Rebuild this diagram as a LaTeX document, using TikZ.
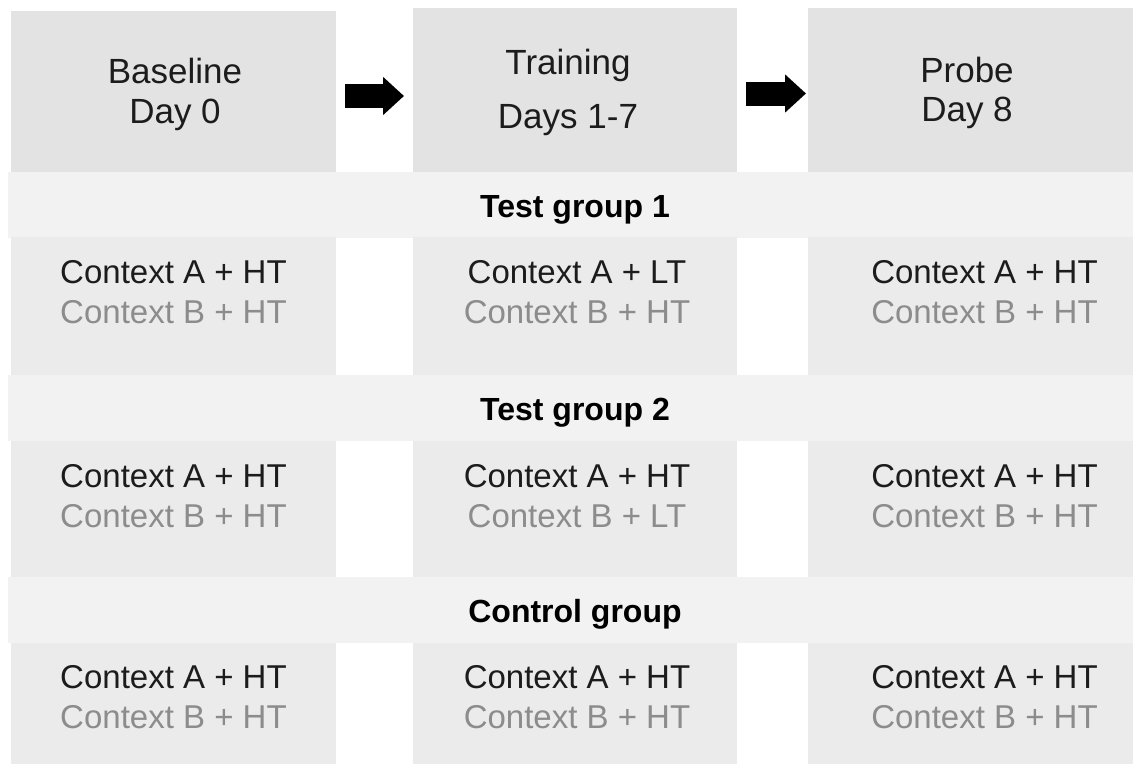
\documentclass[tikz,border=0pt]{standalone}
\usepackage{fontspec}
\setmainfont{Liberation Sans}
\usetikzlibrary{arrows.meta,calc}
\definecolor{headgray}{HTML}{E3E3E3}
\definecolor{rowgray}{HTML}{EBEBEB}
\definecolor{bandgray}{HTML}{F2F2F2}
\definecolor{txtdark}{HTML}{1C1C1C}
\definecolor{txtgray}{HTML}{8C8C8C}
\tikzset{
	cell/.style={anchor=north west, inner sep=0pt, outer sep=0pt},
	hbox/.style={cell, fill=headgray, minimum width=325pt},
	rbox/.style={cell, fill=rowgray, minimum width=325pt},
	band/.style={cell, fill=bandgray, minimum width=1125pt, minimum height=66pt},
	hlab/.style={anchor=base, inner sep=0pt, text=txtdark, font=\fontsize{35}{40}\selectfont},
	glab/.style={anchor=base, inner sep=0pt, text=black, font=\fontsize{32}{38}\selectfont\bfseries},
	ctxa/.style={anchor=base, inner sep=0pt, text=txtdark, font=\fontsize{33}{40}\selectfont},
	ctxb/.style={ctxa, text=txtgray},
	bigarrow/.style={line width=24pt, line cap=butt, -{Triangle[length=21pt,width=37pt]}}
}
\begin{document}
\begin{tikzpicture}[x=1pt, y=-1pt]
	\useasboundingbox (0,0) rectangle (1133,764);
	% phase boxes
	\node[hbox, minimum height=161pt] (hbase) at (11,11) {};
	\node[hbox, minimum height=164pt, minimum width=324pt] (htrain) at (413,8) {};
	\node[hbox, minimum height=164pt] (hprobe) at (808,8) {};
	\node[hlab] (tbase) at (175,83) {Baseline};
	\node[hlab] (dbase) at (175,123) {Day 0};
	\node[hlab] (ttrain) at (568,74) {Training};
	\node[hlab] (dtrain) at (568,128) {Days 1-7};
	\node[hlab] (tprobe) at (967,82) {Probe};
	\node[hlab] (dprobe) at (967,121) {Day 8};
	% arrows
	\draw[bigarrow] ([xshift=9pt,yshift=-4.5pt]hbase.east) coordinate (a1) -- ($(a1 -| htrain.west)+(-9,0)$);
	\draw[bigarrow] ([xshift=9pt,yshift=-3.5pt]htrain.east) coordinate (a2) -- ($(a2 -| hprobe.west)+(-2,0)$);
	% group bands
	\node[band] (band1) at (8,172) {};
	\node[band] (band2) at (8,375) {};
	\node[band] (band3) at (8,577) {};
	\node[glab] (g1) at (575,217) {Test group 1};
	\node[glab] (g2) at (575,420) {Test group 2};
	\node[glab] (g3) at (575,622) {Control group};
	% context boxes
	\node[rbox, minimum height=138pt] (r11) at (11,237) {};
	\node[rbox, minimum height=138pt, minimum width=324pt] (r12) at (413,237) {};
	\node[rbox, minimum height=138pt] (r13) at (808,237) {};
	\node[rbox, minimum height=136pt] (r21) at (11,441) {};
	\node[rbox, minimum height=136pt, minimum width=324pt] (r22) at (413,441) {};
	\node[rbox, minimum height=136pt] (r23) at (808,441) {};
	\node[rbox, minimum height=121pt] (r31) at (11,643) {};
	\node[rbox, minimum height=121pt, minimum width=324pt] (r32) at (413,643) {};
	\node[rbox, minimum height=121pt] (r33) at (808,643) {};
	% group 1
	\node[ctxa] (a11) at (173.5,283) {Context A + HT};
	\node[ctxb] (b11) at (173.5,323) {Context B + HT};
	\node[ctxa] (a12) at (577,283) {Context A + LT};
	\node[ctxb] (b12) at (577,323) {Context B + HT};
	\node[ctxa] (a13) at (984.5,283) {Context A + HT};
	\node[ctxb] (b13) at (984.5,323) {Context B + HT};
	% group 2
	\node[ctxa] (a21) at (173.5,487) {Context A + HT};
	\node[ctxb] (b21) at (173.5,527) {Context B + HT};
	\node[ctxa] (a22) at (577,487) {Context A + HT};
	\node[ctxb] (b22) at (577,527) {Context B + LT};
	\node[ctxa] (a23) at (984.5,487) {Context A + HT};
	\node[ctxb] (b23) at (984.5,527) {Context B + HT};
	% control group
	\node[ctxa] (a31) at (173.5,688) {Context A + HT};
	\node[ctxb] (b31) at (173.5,728) {Context B + HT};
	\node[ctxa] (a32) at (577,688) {Context A + HT};
	\node[ctxb] (b32) at (577,728) {Context B + HT};
	\node[ctxa] (a33) at (984.5,688) {Context A + HT};
	\node[ctxb] (b33) at (984.5,728) {Context B + HT};
\end{tikzpicture}
\end{document}
